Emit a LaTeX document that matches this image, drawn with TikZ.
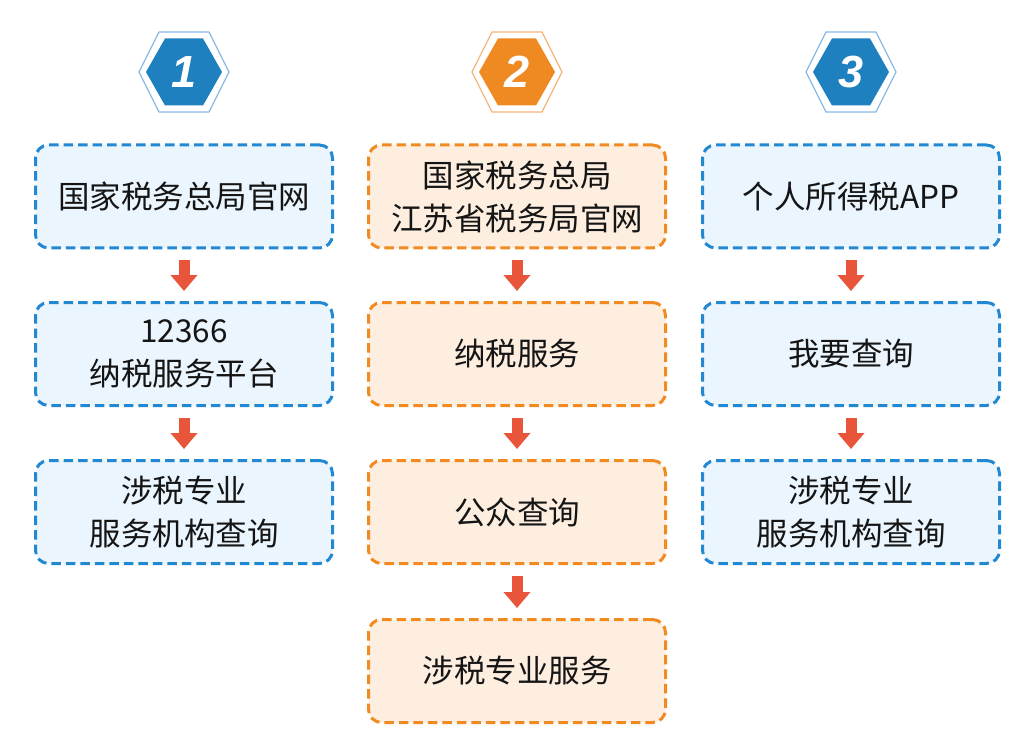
\documentclass[tikz,border=0pt]{standalone}
\usepackage{fontspec}
\newfontfamily\cjk{Noto Sans CJK SC}
\newfontfamily\numfont{Liberation Sans}
\usetikzlibrary{arrows.meta,calc}
\definecolor{bluedash}{HTML}{2388D2}
\definecolor{bluefill}{HTML}{EBF5FD}
\definecolor{orangedash}{HTML}{F08A21}
\definecolor{orangefill}{HTML}{FDEEE0}
\definecolor{arrowred}{HTML}{E8553B}
\definecolor{hexblue}{HTML}{1F80C0}
\definecolor{hexblueline}{HTML}{8BB9E6}
\definecolor{hexorange}{HTML}{EF8A22}
\definecolor{hexorangeline}{HTML}{F5B57A}
\definecolor{txt}{HTML}{151515}
\begin{document}
\begin{tikzpicture}[x=1pt,y=-1pt,
  box/.style={rounded corners=13pt, line width=3pt, dash pattern=on 9.5pt off 5pt,
    minimum width=297pt, minimum height=103pt, align=center, inner sep=0pt,
    font=\cjk\fontsize{31.5}{43}\selectfont, text=txt},
  bluebox/.style={box, draw=bluedash, fill=bluefill},
  orangebox/.style={box, draw=orangedash, fill=orangefill},
  flow/.style={arrowred, line width=11pt, -{Triangle[width=26pt,length=16pt]}},
  numtext/.style={text=white, font=\numfont\bfseries\itshape\fontsize{45}{45}\selectfont, inner sep=0pt},
  hexout/.style={line width=1.3pt, fill=white}
]
\useasboundingbox (0,0) rectangle (1022,743);
\fill[white] (0,0) rectangle (1022,743);

% hexagons
\foreach \cx/\lc/\fc/\n in {184/hexblueline/hexblue/1, 517/hexorangeline/hexorange/2, 851/hexblueline/hexblue/3}{
  \draw[hexout, draw=\lc] (\cx-45,72) -- (\cx-25,32) -- (\cx+25,32) -- (\cx+45,72) -- (\cx+25,112) -- (\cx-25,112) -- cycle;
  \fill[\fc] (\cx-38,72) -- (\cx-19,38.5) -- (\cx+19,38.5) -- (\cx+38,72) -- (\cx+19,105.5) -- (\cx-19,105.5) -- cycle;
  \node[numtext] (n\n) at (\cx,72) {\n};
}

% column 1
\node[bluebox] (a1) at (184,196.5) {国家税务总局官网};
\node[bluebox] (a2) at (184,354) {12366\\纳税服务平台};
\node[bluebox] (a3) at (184,512) {涉税专业\\服务机构查询};

% column 2
\node[orangebox] (b1) at (517,196.5) {国家税务总局\\江苏省税务局官网};
\node[orangebox] (b2) at (517,354) {纳税服务};
\node[orangebox] (b3) at (517,512) {公众查询};
\node[orangebox] (b4) at (517,671) {涉税专业服务};

% column 3
\node[bluebox] (c1) at (851,196.5) {个人所得税APP};
\node[bluebox] (c2) at (851,354) {我要查询};
\node[bluebox] (c3) at (851,512) {涉税专业\\服务机构查询};

% arrows
\foreach \u/\v in {a1/a2,a2/a3,b1/b2,b2/b3,b3/b4,c1/c2,c2/c3}{
  \draw[flow] ($(\u.south)+(0,11)$) -- ($(\v.north)+(0,-10)$);
}
\end{tikzpicture}
\end{document}
